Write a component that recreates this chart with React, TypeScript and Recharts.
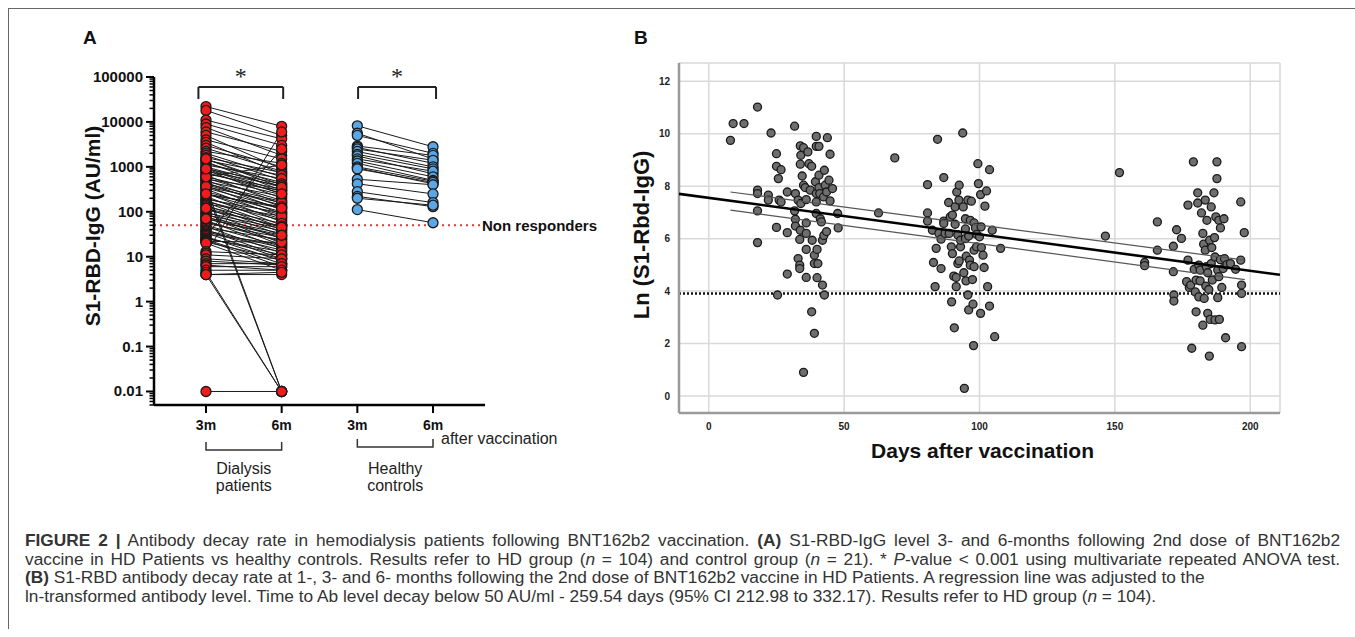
import React from 'react';
import { ScatterChart, Scatter, XAxis, YAxis, CartesianGrid, ReferenceLine } from 'recharts';

const FONT = "'Liberation Sans', Arial, Helvetica, sans-serif";

// ---- Panel A: S1-RBD-IgG (AU/ml), one [3m, 6m] pair per subject ----
const timeLabels = ['3m', '6m', '3m', '6m'];
const groupLabels = [['Dialysis', 'patients'], ['Healthy', 'controls']];
const logMajorTicks = [0.01, 0.1, 1, 10, 100, 1000, 10000, 100000];
const nonResponderCutoff = 50;

const dialysisPairs: [number, number][] = [
  [22000, 8000], [18000, 5000], [11000, 4200], [9000, 3000], [7500, 1800],
  [6000, 2200], [5000, 900], [4000, 1500], [3500, 700], [3000, 1000],
  [2600, 800], [2200, 1200], [2000, 600], [1800, 500], [1600, 750],
  [1500, 400], [1400, 650], [1300, 300], [1200, 450], [1100, 550],
  [1000, 350], [950, 280], [900, 420], [850, 200], [800, 380],
  [750, 260], [700, 320], [650, 150], [600, 240], [560, 180],
  [530, 300], [500, 130], [470, 220], [450, 110], [420, 170],
  [400, 140], [380, 90], [360, 160], [340, 120], [320, 75],
  [300, 0.01], [280, 100], [260, 60], [250, 85], [240, 130],
  [220, 50], [200, 70], [190, 95], [180, 45], [170, 65],
  [160, 40], [150, 80], [140, 35], [130, 55], [120, 30],
  [110, 48], [100, 25], [95, 42], [90, 20], [85, 38],
  [80, 18], [75, 33], [70, 28], [65, 15], [60, 22],
  [55, 27], [50, 17], [47, 12], [44, 24], [40, 10],
  [38, 16], [36, 14], [34, 9], [32, 19], [30, 2500],
  [28, 8], [26, 11], [25, 13], [24, 7], [23, 6],
  [22, 21], [21, 9], [20, 5], [13, 11], [12, 6000],
  [11, 9], [9, 7], [8, 6.5], [7, 7], [6.5, 5],
  [6, 6], [5, 5], [4.5, 0.01], [4, 4], [4, 0.01],
  [370, 0.01], [600, 1100], [1500, 350], [900, 250], [0.01, 0.01],
  [250, 120], [120, 45], [70, 30], [4, 4.5],
];

const healthyPairs: [number, number][] = [
  [8200, 2800], [5600, 1500], [5000, 2000], [2900, 1800], [2700, 1200],
  [2500, 1400], [2200, 1000], [1900, 900], [1750, 700], [1500, 800],
  [1350, 600], [1200, 500], [1000, 480], [950, 420], [900, 450],
  [530, 400], [420, 250], [280, 160], [220, 130], [200, 140],
  [112, 57],
];

// significance brackets (x in group-position units, y in AU/ml)
const brackets = [
  { from: 0.9, to: 2.02, top: 59900, leg: 32400 },
  { from: 3.01, to: 4.04, top: 59900, leg: 32400 },
];

// ---- Panel B: ln(S1-RBD-IgG) vs days after vaccination ----
const dayTicks = [0, 50, 100, 150, 200];
const lnTicks = [0, 2, 4, 6, 8, 10, 12];

const oneMonth: [number, number][] = [
  [8, 9.75], [9, 10.39], [13, 10.39], [18, 11.02], [18, 7.85], [18, 7.72], [18, 7.06], [18, 5.85],
  [22, 7.66], [22, 7.47], [23, 10.03], [25, 9.24], [25, 8.76], [25.4, 3.85], [26, 7.47], [26.7, 8.63],
  [25.7, 8.29], [26.7, 7.4], [25, 6.43], [29, 4.65], [29, 6.23], [29, 7.78], [31.7, 10.29], [32, 7.72],
  [31.7, 7.06], [32, 6.74], [32, 6.48], [33, 7.47], [33.8, 9.54], [34, 9.18], [33.8, 8.84], [34.5, 8.39],
  [35, 8.04], [34, 7.34], [33.8, 6.32], [33.6, 5.97], [33, 5.24], [33.6, 4.99], [33.6, 4.86], [35, 0.9],
  [35, 9.47], [35.6, 7.95], [36, 7.49], [36, 6.6], [36, 6.2], [36, 5.59], [36, 4.52], [36.6, 9.31],
  [37, 8.86], [37.5, 7.85], [38, 8.76], [38, 3.21], [38.2, 5.94], [39, 2.39], [39, 5.37], [39, 5.05],
  [39.4, 8.17], [39.7, 9.9], [39.7, 9.52], [39.7, 7.72], [39.7, 7.4], [39.7, 6.96], [40, 4.51], [40, 5.59],
  [40.3, 5.05], [40.7, 9.52], [40.7, 8.42], [40.7, 7.95], [41, 7.72], [41.2, 6.76], [41.6, 6.64], [42, 4.23],
  [42, 5.94], [42.4, 7.59], [42.7, 3.85], [42.7, 8.61], [43, 8.04], [43.5, 7.78], [43.8, 9.85], [44.4, 8.23],
  [44.8, 9.22], [44.8, 7.44], [45.7, 7.91], [47.6, 6.96], [47.8, 6.41], [42.5, 6.12], [43.5, 6.27],
];

const threeMonths: [number, number][] = [
  [62.7, 6.98], [68.7, 9.08], [80.8, 8.06], [80.8, 6.98], [80.8, 6.67], [82.6, 6.32], [83, 5.09], [83.6, 4.17],
  [84.5, 9.79], [84, 5.63], [85, 6.2], [85.8, 4.86], [85.8, 5.98], [86.8, 8.33], [86.8, 6.67], [86.8, 6.58],
  [87.3, 6.2], [88.6, 7.38], [88.8, 6.2], [89.2, 6.83], [89.6, 5.69], [89.7, 3.59], [90, 5.43], [90, 6.9],
  [90.5, 4.57], [90.7, 2.6], [91, 7.21], [91, 6.55], [91.4, 4.52], [91.4, 4.17], [91.6, 7.78], [92, 6.14],
  [92, 5.05], [92.4, 7.47], [92.5, 8.04], [92.5, 5.15], [93, 5.69], [93, 5.94], [93.8, 10.03], [94, 7.21],
  [94.2, 4.7], [94.4, 0.29], [94.8, 6.76], [94.8, 6.37], [94.8, 6.0], [95, 4.39], [95.1, 5.33], [95.7, 7.47],
  [95.7, 3.85], [96, 3.28], [96, 6.1], [96.3, 5.18], [96.6, 6.7], [96.6, 4.99], [97, 7.43], [97.4, 4.44],
  [97.6, 3.5], [97.8, 1.92], [98, 6.6], [98, 5.56], [98, 4.93], [98.5, 6.41], [98.9, 5.69], [99, 6.16],
  [99.4, 8.86], [99.6, 8.1], [100, 6.07], [100.4, 7.68], [100.4, 3.15], [100.6, 6.45], [100.7, 5.66], [101.3, 5.37],
  [101.7, 4.9], [102, 7.24], [102.6, 7.82], [103, 4.17], [103.7, 8.63], [103.7, 3.43], [104.7, 6.32], [105.6, 2.26],
  [107.8, 5.63],
];

const sixMonths: [number, number][] = [
  [146.5, 6.1], [151.7, 8.52], [161, 5.09], [161, 4.97], [165.7, 5.56], [165.7, 6.64], [171.6, 4.74], [171.6, 5.71],
  [171.8, 3.85], [171.8, 3.62], [172.8, 6.34], [174.6, 6.01], [177, 7.28], [176.5, 4.36], [177, 5.18], [177.5, 4.14],
  [178, 4.23], [178.4, 1.82], [179, 8.93], [179.3, 4.83], [179.7, 3.97], [180, 4.42], [180, 3.21], [180.6, 7.75],
  [180.6, 7.36], [181, 3.78], [181, 4.99], [181.5, 4.8], [181.5, 4.39], [182, 6.98], [182.5, 2.7], [182.5, 6.2],
  [182.8, 5.79], [183, 3.72], [183.4, 7.47], [183.4, 5.56], [183.6, 4.19], [183.8, 4.93], [184, 6.7], [184.3, 3.15],
  [184.3, 4.7], [184.7, 4.06], [184.9, 1.52], [185, 5.94], [185.2, 2.92], [185.6, 5.05], [185.6, 7.21], [185.8, 5.66],
  [186, 4.42], [186.6, 7.75], [186.8, 6.04], [187, 2.9], [187, 5.3], [187.3, 6.83], [187.7, 8.93], [187.7, 8.29],
  [188, 4.8], [188, 3.75], [188.4, 6.7], [188.4, 4.55], [188.6, 2.92], [189, 6.41], [189, 5.2], [189.5, 4.14],
  [190, 4.86], [190.3, 6.76], [190.5, 5.24], [190.9, 2.22], [191.4, 5.01], [192.7, 5.05], [194.6, 4.83], [196.5, 7.4],
  [196.5, 5.18], [196.8, 4.23], [196.8, 3.91], [196.8, 1.88], [197.8, 6.23],
];

// fitted regression line and its confidence band
const regression: [number, number][] = [[-11, 7.71], [211, 4.62]];
const upperBand: [number, number][] = [[8, 7.78], [198, 5.18]];
const lowerBand: [number, number][] = [[8, 7.09], [198, 4.44]];

// ---- layout ----
const A_W = 620, A_H = 530, A_YW = 70, A_XH = 30;
const A_LEFT = 154, A_RIGHT = 485, A_TOP = 77, A_BOTTOM = 405;
const A_X_MIN = 0.313, A_X_MAX = 4.687;
const STEP_A = (A_RIGHT - A_LEFT) / (A_X_MAX - A_X_MIN);

const B_X = 560, B_W = 760, B_H = 470, B_YW = 40, B_XH = 30;
const B_LEFT = 679, B_RIGHT = 1280, B_TOP = 63, B_BOTTOM = 413;

const minorTicks: number[] = [];
[0.001, 0.01, 0.1, 1, 10, 100, 1000, 10000].forEach((d) => {
  for (let k = 2; k <= 9; k++) {
    const v = Number((d * k).toPrecision(3));
    if (v >= 0.005 && v < 100000) minorTicks.push(v);
  }
});
const yTicksA = [...logMajorTicks, ...minorTicks].sort((a, b) => a - b);

const toXY = (pairs: [number, number][], x1: number) => ({
  before: pairs.map((p) => ({ x: x1, y: p[0] })),
  after: pairs.map((p) => ({ x: x1 + 1, y: p[1] })),
});
const dialysisPts = toXY(dialysisPairs, 1);
const healthyPts = toXY(healthyPairs, 3);

const toDayLn = (pts: [number, number][]) => pts.map((p) => ({ day: p[0], ln: p[1] }));
const panelBPoints = toDayLn([...oneMonth, ...threeMonths, ...sixMonths]);

const dot = (fill: string, r: number) => (p: any) => (
  <circle cx={p.cx} cy={p.cy} r={r} fill={fill} stroke="#1a1a1a" strokeWidth={1.3} />
);
const noShape = () => <g />;

const LogTick = (props: any) => {
  const { x, y, payload } = props;
  const v = payload.value;
  const major = logMajorTicks.some((m) => Math.abs(m - v) / m < 1e-6);
  return (
    <g>
      <line x1={x - (major ? 8 : 4.5)} x2={x} y1={y} y2={y} stroke="#000" strokeWidth={major ? 2 : 1.5} />
      {major && (
        <text x={x - 11} y={y + 5} textAnchor="end" fontSize={15} fontWeight={700} fontFamily={FONT} fill="#111">
          {String(v)}
        </text>
      )}
    </g>
  );
};

const TimeTick = (props: any) => {
  const { x, y, payload } = props;
  const i = Math.round(payload.value) - 1;
  const isGroupEnd = i % 2 === 1;
  const g = groupLabels[(i - 1) / 2];
  const x0 = x - STEP_A;
  const bot = y + (i === 1 ? 37 : 34);
  return (
    <g fontFamily={FONT}>
      <text x={x} y={y + 17} textAnchor="middle" fontSize={14} fontWeight={700} fill="#111">
        {timeLabels[i]}
      </text>
      {isGroupEnd && (
        <g>
          <path d={`M${x0},${bot - 8} V${bot} H${x} V${bot - 8}`} fill="none" stroke="#333" strokeWidth={1.5} />
          <text x={(x0 + x) / 2} y={y + 61} textAnchor="middle" fontSize={16} fill="#222">{g[0]}</text>
          <text x={(x0 + x) / 2} y={y + 78} textAnchor="middle" fontSize={16} fill="#222">{g[1]}</text>
        </g>
      )}
      {i === 3 && (
        <text x={x + 8} y={y + 31} fontSize={16} fill="#222">after vaccination</text>
      )}
    </g>
  );
};

const PanelA = () => (
  <ScatterChart
    width={A_W}
    height={A_H}
    margin={{ top: A_TOP, right: A_W - A_RIGHT, left: A_LEFT - A_YW, bottom: A_H - A_BOTTOM - A_XH }}
  >
    <XAxis
      type="number"
      dataKey="x"
      domain={[A_X_MIN, A_X_MAX]}
      allowDataOverflow
      ticks={[1, 2, 3, 4]}
      interval={0}
      height={A_XH}
      axisLine={{ stroke: '#000', strokeWidth: 2.5 }}
      tickLine={{ stroke: '#000', strokeWidth: 2 }}
      tickSize={8}
      tickMargin={0}
      tick={(p: any) => <TimeTick {...p} />}
    />
    <YAxis
      type="number"
      dataKey="y"
      scale="log"
      domain={[0.005, 100000]}
      allowDataOverflow
      ticks={yTicksA}
      interval={0}
      width={A_YW}
      axisLine={{ stroke: '#000', strokeWidth: 2.5 }}
      tickLine={false}
      tickSize={0}
      tickMargin={0}
      tick={(p: any) => <LogTick {...p} />}
      label={(p: any) => {
        const vb = p.viewBox || { x: A_LEFT - A_YW, y: A_TOP, height: A_BOTTOM - A_TOP };
        const cx = vb.x + 8;
        const cy = vb.y + vb.height / 2 - 15;
        return (
          <text x={cx} y={cy} transform={`rotate(-90 ${cx} ${cy})`} textAnchor="middle" dominantBaseline="central"
            fontSize={21} fontWeight={700} fontFamily={FONT} fill="#111">
            S1-RBD-IgG (AU/ml)
          </text>
        );
      }}
    />
    <ReferenceLine
      y={nonResponderCutoff}
      stroke="#e03a3a"
      strokeWidth={2}
      strokeDasharray="2 4"
      label={{ value: 'Non responders', position: 'right', offset: -3, fill: '#111', fontSize: 15, fontWeight: 700, fontFamily: FONT }}
    />
    {brackets.map((b, i) => (
      <ReferenceLine
        key={`bt${i}`}
        segment={[{ x: b.from, y: b.top }, { x: b.to, y: b.top }]}
        stroke="#222"
        strokeWidth={2}
        label={{ value: '*', position: 'top', offset: 3, fill: '#222', fontSize: 24, fontFamily: "'Liberation Serif', serif" }}
      />
    ))}
    {brackets.map((b, i) => (
      <ReferenceLine key={`bl${i}`} segment={[{ x: b.from, y: b.top }, { x: b.from, y: b.leg }]} stroke="#222" strokeWidth={2} />
    ))}
    {brackets.map((b, i) => (
      <ReferenceLine key={`br${i}`} segment={[{ x: b.to, y: b.top }, { x: b.to, y: b.leg }]} stroke="#222" strokeWidth={2} />
    ))}
    {dialysisPairs.map((p, i) => (
      <Scatter
        key={`dl${i}`}
        data={[{ x: 1, y: p[0] }, { x: 2, y: p[1] }]}
        line={{ stroke: '#1a1a1a', strokeWidth: 1 }}
        shape={noShape}
        isAnimationActive={false}
      />
    ))}
    {healthyPairs.map((p, i) => (
      <Scatter
        key={`hl${i}`}
        data={[{ x: 3, y: p[0] }, { x: 4, y: p[1] }]}
        line={{ stroke: '#1a1a1a', strokeWidth: 1 }}
        shape={noShape}
        isAnimationActive={false}
      />
    ))}
    <Scatter data={dialysisPts.before} shape={dot('#ee1c1c', 5)} isAnimationActive={false} />
    <Scatter data={dialysisPts.after} shape={dot('#ee1c1c', 5)} isAnimationActive={false} />
    <Scatter data={healthyPts.before} shape={dot('#5aa7e8', 5)} isAnimationActive={false} />
    <Scatter data={healthyPts.after} shape={dot('#5aa7e8', 5)} isAnimationActive={false} />
  </ScatterChart>
);

const PanelB = () => (
  <ScatterChart
    width={B_W}
    height={B_H}
    margin={{ top: B_TOP, right: B_W - (B_RIGHT - B_X), left: B_LEFT - B_X - B_YW, bottom: B_H - B_BOTTOM - B_XH }}
  >
    <CartesianGrid stroke="#d9d9d9" strokeWidth={1.5} />
    <XAxis
      type="number"
      dataKey="day"
      domain={[-11, 211]}
      allowDataOverflow
      ticks={dayTicks}
      interval={0}
      height={B_XH}
      axisLine={{ stroke: '#9a9a9a', strokeWidth: 2.5 }}
      tickLine={false}
      tickSize={0}
      tickMargin={10}
      tick={{ fontSize: 10, fontWeight: 700, fill: '#222', fontFamily: FONT }}
      label={(p: any) => {
        const vb = p.viewBox || { x: B_LEFT - B_X, y: B_BOTTOM, width: B_RIGHT - B_LEFT };
        return (
          <text x={vb.x + vb.width / 2 + 3} y={vb.y + 45} textAnchor="middle" fontSize={21} fontWeight={700} fontFamily={FONT} fill="#111">
            Days after vaccination
          </text>
        );
      }}
    />
    <YAxis
      type="number"
      dataKey="ln"
      domain={[-0.65, 12.7]}
      allowDataOverflow
      ticks={lnTicks}
      interval={0}
      width={B_YW}
      axisLine={{ stroke: '#9a9a9a', strokeWidth: 2.5 }}
      tickLine={false}
      tickSize={0}
      tickMargin={9}
      tick={{ fontSize: 10, fontWeight: 700, fill: '#222', fontFamily: FONT }}
      label={(p: any) => {
        const vb = p.viewBox || { x: B_LEFT - B_X - B_YW, y: B_TOP, height: B_BOTTOM - B_TOP };
        const cx = vb.x + 2;
        const cy = vb.y + vb.height / 2 - 3;
        return (
          <text x={cx} y={cy} transform={`rotate(-90 ${cx} ${cy})`} textAnchor="middle" dominantBaseline="central"
            fontSize={22} fontWeight={700} fontFamily={FONT} fill="#111">
            Ln (S1-Rbd-IgG)
          </text>
        );
      }}
    />
    <Scatter data={panelBPoints} shape={dot('#6e6e6e', 4)} isAnimationActive={false} />
    <ReferenceLine y={Math.log(nonResponderCutoff)} stroke="#111" strokeWidth={2.5} strokeDasharray="2 2" />
    <Scatter data={toDayLn(upperBand)} line={{ stroke: '#555', strokeWidth: 1.2 }} shape={noShape} isAnimationActive={false} />
    <Scatter data={toDayLn(lowerBand)} line={{ stroke: '#555', strokeWidth: 1.2 }} shape={noShape} isAnimationActive={false} />
    <Scatter data={toDayLn(regression)} line={{ stroke: '#000', strokeWidth: 2.6 }} shape={noShape} isAnimationActive={false} />
  </ScatterChart>
);

const captionStyle: React.CSSProperties = {
  position: 'absolute',
  left: 25,
  top: 531,
  width: 1315,
  fontFamily: FONT,
  fontSize: 17.3,
  lineHeight: '18.7px',
  color: '#333',
};
const justified: React.CSSProperties = { textAlign: 'justify', textAlignLast: 'justify' };

export default function App() {
  return (
    <div style={{ position: 'absolute', left: 0, top: 0, width: 1355, height: 637, background: '#fff', overflow: 'hidden' }}>
      <div style={{ position: 'absolute', left: 8, top: 8, width: 1360, height: 620, borderTop: '1.5px solid #666', borderLeft: '1.5px solid #666' }} />
      <div style={{ position: 'absolute', left: 0, top: 0 }}>
        <PanelA />
      </div>
      <div style={{ position: 'absolute', left: B_X, top: 0 }}>
        <PanelB />
      </div>
      <div style={{ position: 'absolute', left: 83, top: 27, fontFamily: FONT, fontSize: 19, fontWeight: 700, lineHeight: '22px', color: '#111' }}>A</div>
      <div style={{ position: 'absolute', left: 634, top: 27, fontFamily: FONT, fontSize: 19, fontWeight: 700, lineHeight: '22px', color: '#111' }}>B</div>
      <div style={captionStyle}>
        <div style={justified}>
          <b>FIGURE 2 |</b> Antibody decay rate in hemodialysis patients following BNT162b2 vaccination. <b>(A)</b> S1-RBD-IgG level 3- and 6-months following 2nd dose of BNT162b2
        </div>
        <div style={justified}>
          vaccine in HD Patients vs healthy controls. Results refer to HD group (<i>n</i> = 104) and control group (<i>n</i> = 21). * <i>P</i>-value &lt; 0.001 using multivariate repeated ANOVA test.
        </div>
        <div style={{ whiteSpace: 'nowrap' }}>
          <b>(B)</b> S1-RBD antibody decay rate at 1-, 3- and 6- months following the 2nd dose of BNT162b2 vaccine in HD Patients. A regression line was adjusted to the
        </div>
        <div style={{ whiteSpace: 'nowrap' }}>
          ln-transformed antibody level. Time to Ab level decay below 50 AU/ml - 259.54 days (95% CI 212.98 to 332.17). Results refer to HD group (<i>n</i> = 104).
        </div>
      </div>
    </div>
  );
}
